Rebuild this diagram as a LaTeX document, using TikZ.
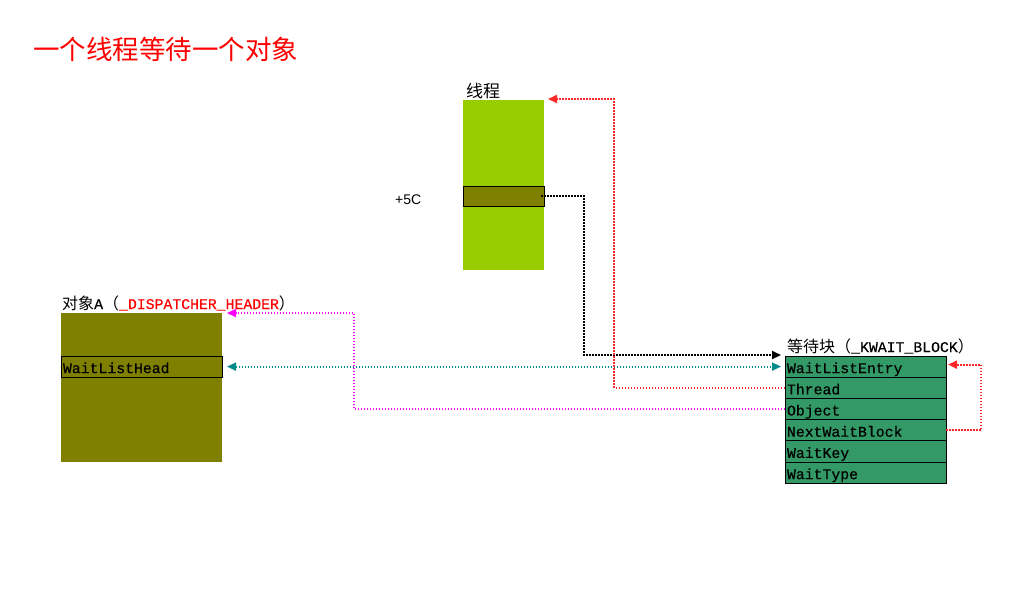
\documentclass[tikz,border=0pt]{standalone}
\usepackage{fontspec}
\setmainfont{Liberation Sans}
\newfontfamily\cjk{Noto Sans CJK SC}
\newfontfamily\mono[FakeBold=0.4]{Liberation Mono}
\usepackage{tikz}
\usetikzlibrary{arrows.meta,positioning,calc}
\definecolor{thrfill}{RGB}{153,204,0}
\definecolor{objfill}{RGB}{128,128,0}
\definecolor{wbfill}{RGB}{51,153,102}
\definecolor{tealink}{RGB}{0,140,140}
\definecolor{redlink}{RGB}{255,40,40}
\definecolor{maglink}{RGB}{255,0,255}
\newcommand{\cjkfs}{\cjk\fontsize{16}{18}\selectfont}
\newcommand{\fldfs}{\mono\fontsize{14.8}{16}\selectfont}
\tikzset{
  lnk/.style={line width=2pt,dash pattern=on 1.5pt off 1.5pt,->},
  blk/.style={inner sep=0pt,outer sep=0pt,anchor=north west,minimum width=161pt},
  fld/.style={draw=black,line width=1pt,outer sep=0pt,anchor=north west,align=left,
    inner xsep=2pt,inner ysep=0pt,text width=157pt,minimum height=21.2pt,
    text height=13pt,text depth=0pt,font=\fldfs},
  lbl/.style={inner sep=0pt,anchor=base west},
}
\begin{document}
\begin{tikzpicture}[x=1pt,y=-1pt,>={Triangle[length=9pt,width=8pt]}]
\useasboundingbox (0,0) rectangle (1027,606);
\node[lbl,text=red,font=\cjk\fontsize{26.5}{30}\selectfont] (title) at (33,59) {一个线程等待一个对象};
% thread
\node[blk,fill=thrfill,minimum width=81pt,minimum height=170pt] (thr) at (463,100) {};
\node[lbl,font=\cjk\fontsize{17}{19}\selectfont] (thrlbl) at ($(thr.north west)+(3,-3)$) {线程};
\node[blk,draw=black,line width=1pt,fill=objfill,minimum width=81pt,minimum height=20pt] (thr5c) at (463,186) {};
\node[lbl,font=\fontsize{14}{16}\selectfont] (off) at ($(thr5c.west)+(-68,8)$) {+5C};
% object A
\node[blk,fill=objfill,minimum height=149pt] (obj) at (61,313) {};
\node[lbl] (objlbl) at ($(obj.north west)+(1,-4)$)
  {{\cjkfs 对象}{\fldfs A}{\cjkfs （}{\fldfs\color{red}\_DISPATCHER\_HEADER}{\cjkfs ）}};
\node[fld] (wlh) at (61,356) {WaitListHead};
% wait block
\node[fld,fill=wbfill] (wb1) at (785,356) {WaitListEntry};
\node[fld,fill=wbfill,below=0pt of wb1] (wb2) {Thread};
\node[fld,fill=wbfill,below=0pt of wb2] (wb3) {Object};
\node[fld,fill=wbfill,below=0pt of wb3] (wb4) {NextWaitBlock};
\node[fld,fill=wbfill,below=0pt of wb4] (wb5) {WaitKey};
\node[fld,fill=wbfill,below=0pt of wb5] (wb6) {WaitType};
\node[lbl] (wblbl) at ($(wb1.north west)+(2,-4)$)
  {{\cjkfs 等待块（}{\fldfs\_KWAIT\_BLOCK}{\cjkfs ）}};
% links
\draw[lnk,black] ($(thr5c.east)+(-3,0)$) -- ++(43,0) |- ($(wb1.north west)+(-4,-1)$);
\draw[lnk,tealink,<->] ($(wlh.east)+(5,0)$) -- ($(wb1.west)+(-4,0)$);
\draw[lnk,redlink] (wb2.west) -- ++(-171,0) |- ($(thr.north east)+(4,-1)$);
\draw[lnk,maglink] (wb3.west) -- ++(-431,0) |- ($(obj.north east)+(5,0)$);
\draw[lnk,redlink] (wb4.east) -- ++(35,0) |- ($(wb1.east)+(2,-2)$);
\end{tikzpicture}
\end{document}
